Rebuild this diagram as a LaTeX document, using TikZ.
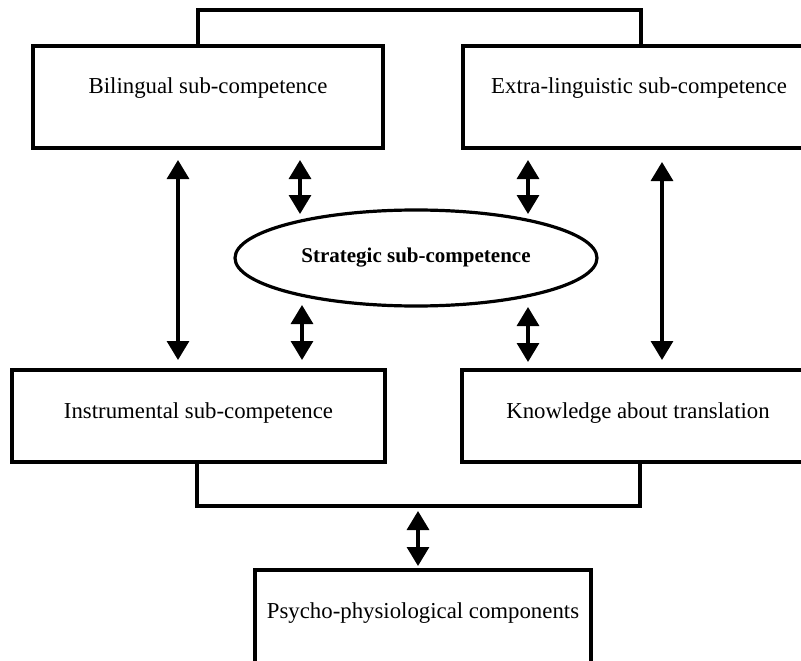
\documentclass[tikz,border=0pt]{standalone}
\usepackage{fontspec}
\setmainfont{Liberation Serif}
\usetikzlibrary{arrows.meta,shapes.geometric}

\tikzset{
  box/.style={draw, line width=3.2pt, rectangle, inner sep=0pt,
    font=\fontsize{22.8}{26}\selectfont, text height=10pt, text depth=16pt},
  lowbox/.style={box, text depth=6pt},
  basebox/.style={box, text depth=18pt},
  oval/.style={draw, line width=3.2pt, ellipse, inner sep=0pt,
    minimum width=362pt, minimum height=96pt,
    font=\bfseries\fontsize{21}{24}\selectfont},
  link/.style={line width=3.2pt},
  biarrow/.style={line width=3.2pt, {Triangle[width=22pt,length=19pt]}-{Triangle[width=22pt,length=19pt]}}
}

\begin{document}
\begin{tikzpicture}[x=1pt,y=-1pt]
  \clip (0,0) rectangle (801,661);
  \fill[white] (0,0) rectangle (801,661);

  % the four sub-competences
  \node[box, minimum width=350pt, minimum height=102pt] (bil) at (208,97) {Bilingual sub-competence};
  \node[box, minimum width=352pt, minimum height=102pt] (ext) at (639,97) {Extra-linguistic sub-competence};
  \node[lowbox, minimum width=373pt, minimum height=92pt] (ins) at (198.5,416) {Instrumental sub-competence};
  \node[lowbox, minimum width=352pt, minimum height=92pt] (kno) at (638,416) {Knowledge about translation};

  % central strategic component
  \node[oval] (str) at (416,258) {Strategic sub-competence};

  % psycho-physiological components
  \node[basebox, minimum width=336pt, minimum height=104pt] (psy) at (423,622) {Psycho-physiological components};

  % brackets joining the upper and lower pairs
  \coordinate (tl) at (198,10);
  \coordinate (tr) at (641,10);
  \draw[link] (bil.north -| tl) -- (tl) -- (tr) -- (ext.north -| tr);
  \coordinate (bl) at (197,506);
  \coordinate (br) at (640,506);
  \draw[link] (ins.south -| bl) -- (bl) -- (br) -- (kno.south -| br);

  % arrow end points
  \coordinate (a1) at (178,160); \coordinate (b1) at (178,360);
  \coordinate (a2) at (662,162); \coordinate (b2) at (662,360);
  \coordinate (a3) at (300,160); \coordinate (b3) at (300,214);
  \coordinate (a4) at (302,305); \coordinate (b4) at (302,360);
  \coordinate (a5) at (528,160); \coordinate (b5) at (528,214);
  \coordinate (a6) at (528,307); \coordinate (b6) at (528,362);
  \coordinate (a7) at (418,511); \coordinate (b7) at (418,566);

  \draw[biarrow] (a1) -- (b1);
  \draw[biarrow] (a2) -- (b2);
  \draw[biarrow] (a3) -- (b3);
  \draw[biarrow] (a4) -- (b4);
  \draw[biarrow] (a5) -- (b5);
  \draw[biarrow] (a6) -- (b6);
  \draw[biarrow] (a7) -- (b7);
\end{tikzpicture}
\end{document}
